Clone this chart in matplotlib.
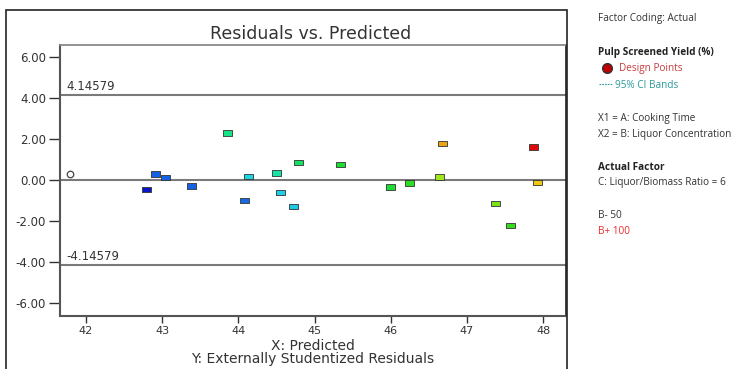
import matplotlib
matplotlib.use("Agg")
import matplotlib.pyplot as plt
from matplotlib.colors import LinearSegmentedColormap
from matplotlib.patches import Rectangle
from matplotlib.lines import Line2D

# design points: predicted value, externally studentized residual, actual response
predicted = [42.80, 42.91, 43.05, 43.39, 43.86, 44.08, 44.13, 44.50, 44.55, 44.72,
             44.79, 45.34, 46.00, 46.24, 46.64, 46.68, 47.37, 47.57, 47.88, 47.93]
residual = [-0.49, 0.28, 0.10, -0.31, 2.29, -1.02, 0.16, 0.33, -0.63, -1.30,
            0.83, 0.75, -0.36, -0.16, 0.14, 1.76, -1.17, -2.24, 1.61, -0.14]
actual = [42.30, 43.16, 43.16, 43.16, 45.18, 43.24, 44.32, 44.89, 44.24, 44.17,
          45.54, 46.04, 46.04, 46.26, 47.05, 48.42, 46.84, 46.33, 49.50, 47.92]

# run drawn as an open circle
open_pred = [41.79]
open_resid = [0.29]

limit = 4.14579
xticks = [42, 43, 44, 45, 46, 47, 48]
yticks = [-6, -4, -2, 0, 2, 4, 6]

legend_lines = [
    ("Factor Coding: Actual", "normal", "#333333"),
    ("Pulp Screened Yield (%)", "bold", "#222222"),
    ("X1 = A: Cooking Time", "normal", "#333333"),
    ("X2 = B: Liquor Concentration", "normal", "#333333"),
    ("Actual Factor", "bold", "#222222"),
    ("C: Liquor/Biomass Ratio = 6", "normal", "#333333"),
    ("B- 50", "normal", "#333333"),
    ("B+ 100", "normal", "#ee2b2b"),
]

cmap = LinearSegmentedColormap.from_list("de", [
    (0.00, "#0a14c8"), (0.12, "#1464e6"), (0.27, "#1ed2e6"), (0.38, "#14e696"),
    (0.50, "#14dc3c"), (0.58, "#3cdc14"), (0.66, "#a0e61e"), (0.78, "#f0c814"),
    (0.86, "#eba014"), (1.00, "#dc0a0a")])

W, H = 731, 369
fig = plt.figure(figsize=(W / 100, H / 100), dpi=100)
ax = fig.add_axes([60 / W, 1 - 316 / H, 506 / W, 271 / H])

for y in (limit, 0, -limit):
    ax.axhline(y, color="#7a7a7a", lw=1.5, zorder=1)
ax.text(41.74, limit + 0.1, f"{limit:.5f}", fontsize=8.5, color="#333333", va="bottom")
ax.text(41.74, -limit + 0.1, f"{-limit:.5f}", fontsize=8.5, color="#333333", va="bottom")

rect = [(-1.7, -1), (1.7, -1), (1.7, 1), (-1.7, 1), (-1.7, -1)]
ax.scatter(predicted, residual, c=actual, cmap=cmap, vmin=min(actual), vmax=max(actual),
           marker=rect, s=42, edgecolors="#333333", linewidths=0.6, zorder=3)
ax.scatter(open_pred, open_resid, marker="o", s=22, facecolors="white",
           edgecolors="#444444", linewidths=0.9, zorder=3)

ax.set_xlim(41.66, 48.30)
ax.set_ylim(-6.66, 6.59)
ax.set_xticks(xticks)
ax.set_xticklabels([str(t) for t in xticks])
ax.set_yticks(yticks)
ax.set_yticklabels([f"{t:.2f}" for t in yticks])
ax.tick_params(axis="both", labelcolor="#333333", color="#333333", width=1)
ax.tick_params(axis="y", length=8, pad=2, labelsize=8.5)
ax.tick_params(axis="x", length=5, pad=2, labelsize=8)
for side in ("left", "bottom"):
    ax.spines[side].set_color("#555555")
    ax.spines[side].set_linewidth(1.5)
ax.spines["top"].set_color("#8a8a8a")
ax.spines["top"].set_linewidth(1.3)
ax.spines["right"].set_color("#222222")
ax.spines["right"].set_linewidth(1.2)

# outer frame around plot and title strip
fig.patches.append(Rectangle((6 / W, -0.02), 561 / W, 1 - 10 / H + 0.02, transform=fig.transFigure,
                             fill=False, edgecolor="#222222", lw=1.2))
fig.text(311 / W, 1 - 34 / H, "Residuals vs. Predicted", ha="center", va="center",
         fontsize=12.5, color="#333333")
fig.text(313 / W, 1 - 346 / H, "X: Predicted", ha="center", va="center", fontsize=10,
         color="#333333")
fig.text(313 / W, 1 - 358.5 / H, "Y: Externally Studentized Residuals", ha="center",
         va="center", fontsize=10, color="#333333")

# side legend
lx = 598 / W
ys = [19, 52, 118, 134, 167, 183, 216, 232]
for (txt, weight, col), y in zip(legend_lines, ys):
    fig.text(lx, 1 - y / H, txt, fontsize=7.2, fontweight=weight, color=col, va="center",
             family="Open Sans")
fig.add_artist(Line2D([607 / W], [1 - 68 / H], marker="o", markersize=7,
                      markerfacecolor="#c00000", markeredgecolor="#333333", lw=0))
fig.text(619 / W, 1 - 69 / H, "Design Points", fontsize=7.2, color="#c83c3c", va="center",
         family="Open Sans")
fig.add_artist(Line2D([599 / W, 612 / W], [1 - 84 / H, 1 - 84 / H], color="#2a9a9a",
                      lw=0.8, ls=(0, (1.5, 1))))
fig.text(615 / W, 1 - 85 / H, "95% CI Bands", fontsize=7.2, color="#2a9a9a", va="center",
         family="Open Sans")

fig.savefig("out.png", dpi=100)
